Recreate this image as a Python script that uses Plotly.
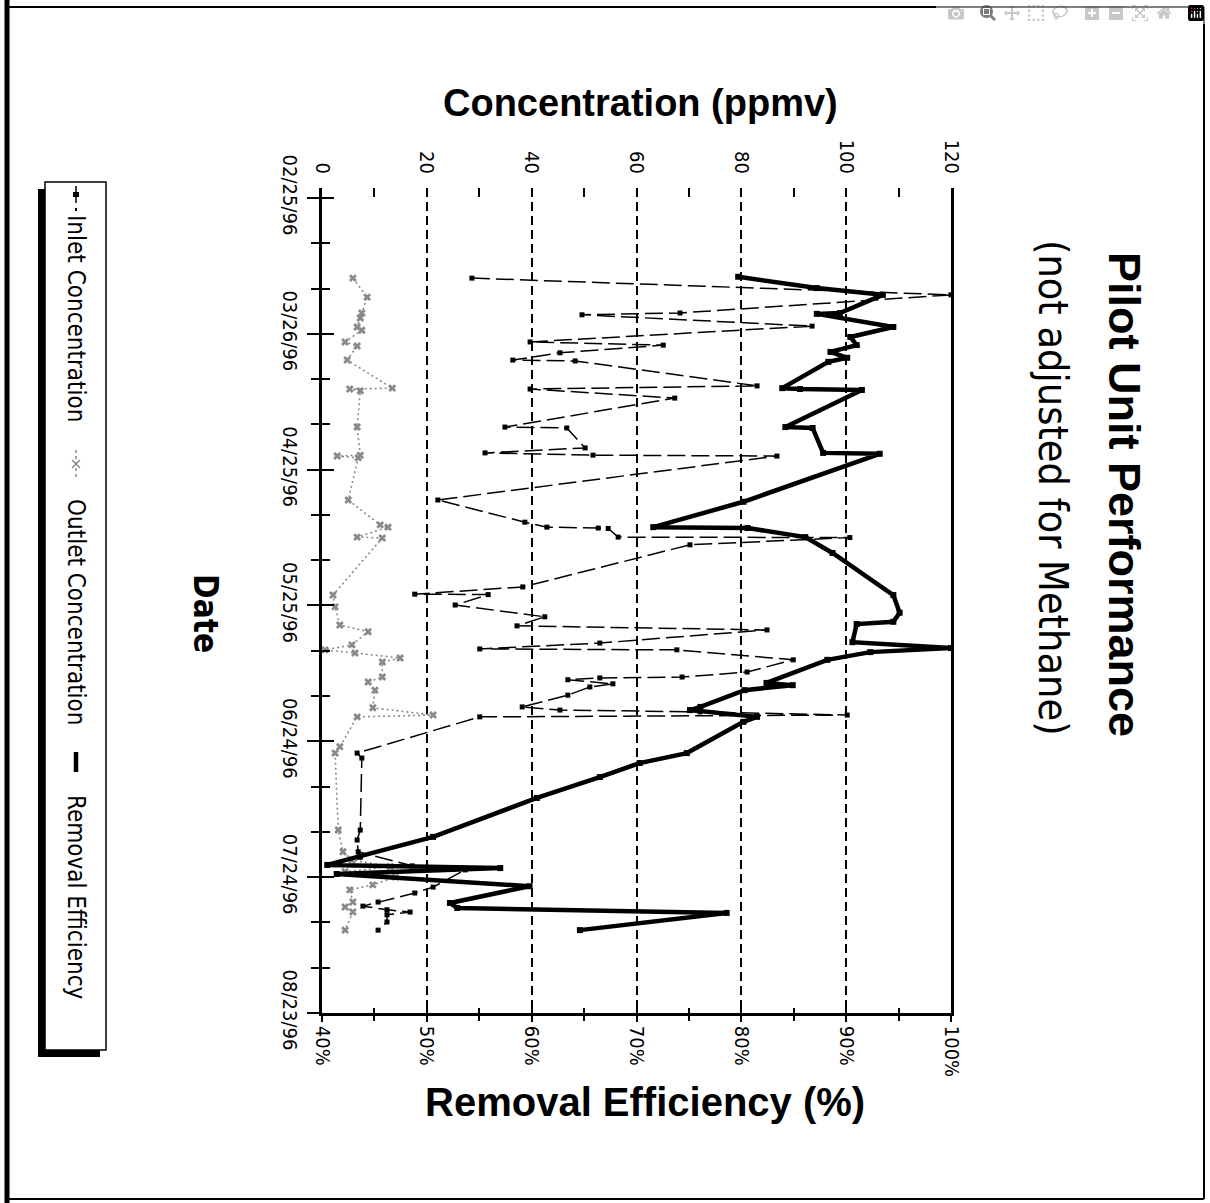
import plotly.graph_objects as go
import pandas as pd

W, H = 1210, 1203
BASE = pd.Timestamp("1996-02-25")

# ---------------- data ----------------
# days after 02/25/96
inlet_days = [17.7, 21.4, 25.4, 25.8, 28.3, 31.8, 32.5, 34.2, 35.8, 36.0, 41.5, 42.2, 44.2,
              50.6, 50.8, 55.2, 56.3, 56.8, 57.0, 66.7, 71.6, 72.7, 72.9, 73.0, 74.9, 75.0,
              76.6, 85.9, 87.5, 87.6, 89.9, 92.5, 94.5, 95.4, 98.3, 99.6, 99.8, 102.0, 104.7,
              105.8, 106.0, 106.4, 107.3, 108.0, 109.8, 112.4, 113.1, 113.5, 114.2, 114.6,
              122.6, 123.7, 139.6, 141.8, 144.4, 147.5, 148.4, 152.2, 153.5, 155.5, 156.4,
              157.2, 157.7, 158.3, 159.9, 161.7]
inlet_ppmv = [28.6, 120.0, 68.3, 49.6, 93.5, 39.7, 65.1, 45.4, 36.4, 48.3, 83.0, 39.7, 67.3,
              34.9, 46.7, 50.2, 31.1, 51.7, 86.8, 22.1, 38.7, 42.9, 52.7, 54.6, 56.5, 100.7,
              70.2, 38.3, 17.7, 31.7, 25.4, 42.5, 37.2, 84.9, 53.0, 30.1, 67.7, 89.9, 81.1,
              68.7, 53.0, 46.9, 55.5, 51.1, 46.9, 38.2, 45.4, 72.1, 100.2, 30.1,
              6.7, 7.6, 7.3, 6.7, 6.9, 17.2, 27.3, 21.2, 17.7, 10.7, 7.8,
              12.4, 16.8, 12.4, 12.4, 10.7]

outlet_days = [17.7, 21.9, 25.4, 26.5, 28.5, 29.2, 31.8, 32.7, 35.8, 42.0, 42.2, 42.6, 50.6,
               56.8, 57.0, 57.4, 66.7, 72.2, 72.7, 74.9, 75.1, 87.7, 90.3, 94.3, 95.8, 98.7,
               99.8, 100.5, 101.6, 102.5, 105.8, 106.9, 108.7, 112.6, 114.2, 114.6, 121.2,
               122.6, 139.6, 144.4, 146.2, 147.7, 148.8, 150.0, 151.7, 152.8, 155.5, 156.6,
               157.7, 161.7]
outlet_ppmv = [5.9, 8.6, 7.6, 7.3, 6.7, 7.6, 4.4, 6.7, 4.8, 13.4, 5.3, 7.3, 6.7,
               7.3, 2.9, 6.9, 5.0, 11.1, 12.6, 6.7, 11.5, 2.1, 2.5, 3.4, 8.8, 5.7,
               0.6, 6.3, 14.9, 11.5, 11.5, 8.8, 10.1, 9.7, 21.2, 6.7, 3.4,
               2.5, 3.1, 4.0, 5.7, 13.0, 4.4, 14.0, 9.7, 5.3, 5.9, 4.4,
               5.9, 4.4]

eff_days = [17.4, 19.9, 21.4, 25.4, 25.6, 28.5, 30.7, 32.5, 34.0, 35.3, 36.2, 42.0, 42.2,
            42.4, 50.6, 50.8, 56.3, 56.5, 67.1, 72.7, 72.9, 74.9, 78.4, 87.7, 91.6, 93.6,
            94.1, 98.1, 99.4, 100.3, 102.0, 107.1, 107.6, 108.7, 112.4, 113.1, 114.6, 115.7,
            122.6, 124.8, 127.9, 132.5, 141.1, 145.5, 147.3, 148.0, 149.3, 152.0, 155.7,
            156.8, 157.9, 161.7]
eff_pct = [79.7, 87.2, 93.5, 89.4, 87.2, 94.5, 90.4, 91.0, 88.5, 90.1, 88.3, 83.9, 85.6,
           91.5, 84.2, 86.8, 87.8, 93.2, 80.2, 71.6, 80.6, 86.1, 88.7, 94.5, 95.1, 94.5,
           91.0, 90.6, 100.0, 92.3, 88.2, 82.4, 84.9, 80.3, 76.1, 75.1, 81.5, 80.2,
           74.8, 70.3, 66.5, 60.5, 50.6, 43.6, 40.5, 57.0, 41.4, 59.8, 52.2,
           52.9, 78.6, 64.6]

date_tick_days = [0, 30, 60, 90, 120, 150, 180]
date_tick_labels = ["02/25/96", "03/26/96", "04/25/96", "05/25/96", "06/24/96", "07/24/96", "08/23/96"]
conc_ticks = [0, 20, 40, 60, 80, 100, 120]
conc_minor = [10, 30, 50, 70, 90, 110]
eff_ticks = [40, 50, 60, 70, 80, 90, 100]
eff_tick_labels = ["40%", "50%", "60%", "70%", "80%", "90%", "100%"]
eff_minor = [45, 55, 65, 75, 85, 95]


def to_dates(days):
    return [BASE + pd.Timedelta(days=d) for d in days]


def px(x):
    return x / W


def py(y):
    return 1 - y / H


NARROW = "DejaVu Sans Condensed, Liberation Sans Narrow, Arial Narrow, sans-serif"
ARIAL = "Liberation Sans, Arial, sans-serif"

date_top = BASE - pd.Timedelta(days=2.2)
date_bot = BASE + pd.Timedelta(days=180)
date_ticks = to_dates(date_tick_days)

fig = go.Figure()

fig.add_trace(go.Scatter(
    x=outlet_ppmv, y=to_dates(outlet_days), xaxis="x", yaxis="y",
    mode="lines+markers", name="Outlet Concentration",
    line=dict(color="#8a8a8a", width=1.6, dash="2px,3px"),
    marker=dict(symbol="x", size=7, color="#8a8a8a")))

fig.add_trace(go.Scatter(
    x=inlet_ppmv, y=to_dates(inlet_days), xaxis="x", yaxis="y",
    mode="lines+markers", name="Inlet Concentration",
    line=dict(color="black", width=1.5, dash="18px,6px"),
    marker=dict(symbol="square", size=5, color="black")))

fig.add_trace(go.Scatter(
    x=eff_pct, y=to_dates(eff_days), xaxis="x2", yaxis="y",
    mode="lines+markers", name="Removal Efficiency",
    line=dict(color="black", width=4.5),
    marker=dict(symbol="square", size=6, color="black")))

# helper traces so the extra tick-only axes are drawn
fig.add_trace(go.Scatter(x=[None], y=[None], xaxis="x3", yaxis="y", showlegend=False, hoverinfo="skip"))
fig.add_trace(go.Scatter(x=[None], y=[None], xaxis="x", yaxis="y2", showlegend=False, hoverinfo="skip"))

dom_x = [px(322), px(951)]
dom_y = [py(1013), py(188)]

fig.update_layout(
    width=W, height=H, autosize=False,
    margin=dict(l=0, r=0, t=0, b=0, pad=0, autoexpand=False),
    paper_bgcolor="white", plot_bgcolor="white",
    showlegend=False,
    xaxis=dict(
        domain=dom_x, range=[0, 120], side="top", anchor="y", automargin=False,
        tickmode="array", tickvals=conc_ticks, tickangle=90,
        tickfont=dict(family=NARROW, size=20, color="black"),
        ticks="", ticklabelstandoff=10,
        showgrid=True, gridcolor="black", gridwidth=2, griddash="9px,5px",
        zeroline=False, showline=False,
        minor=dict(tickmode="array", tickvals=conc_minor, ticks="inside", ticklen=9,
                   tickwidth=2, tickcolor="black", showgrid=False)),
    xaxis2=dict(
        overlaying="x", range=[40, 100], side="bottom", anchor="y", automargin=False,
        tickmode="array", tickvals=eff_ticks, ticktext=eff_tick_labels, tickangle=90,
        tickfont=dict(family=NARROW, size=20, color="black"),
        ticks="outside", ticklen=6, tickwidth=2, tickcolor="black",
        showgrid=False, zeroline=False, showline=True, linecolor="black", linewidth=2.5,
        minor=dict(tickmode="array", tickvals=eff_minor, ticks="outside", ticklen=5,
                   tickwidth=2, tickcolor="black", showgrid=False)),
    xaxis3=dict(
        overlaying="x", range=[40, 100], side="bottom", anchor="y", automargin=False,
        tickmode="array", tickvals=eff_ticks, showticklabels=False,
        ticks="inside", ticklen=6, tickwidth=2, tickcolor="black",
        showgrid=False, zeroline=False, showline=False,
        minor=dict(tickmode="array", tickvals=eff_minor, ticks="inside", ticklen=5,
                   tickwidth=2, tickcolor="black", showgrid=False)),
    yaxis=dict(
        domain=dom_y, type="date", range=[date_bot, date_top], anchor="x", automargin=False,
        tickmode="array", tickvals=date_ticks, ticktext=date_tick_labels, tickangle=90,
        tickfont=dict(family=NARROW, size=20, color="black"),
        ticks="outside", ticklen=12, tickwidth=2, tickcolor="black",
        showgrid=False, zeroline=False,
        showline=True, linecolor="black", linewidth=2.5, mirror=True,
        minor=dict(tick0=BASE, dtick=10 * 86400000, ticks="outside", ticklen=8,
                   tickwidth=2, tickcolor="black", showgrid=False)),
    yaxis2=dict(
        overlaying="y", type="date", range=[date_bot, date_top], anchor="x", automargin=False,
        tickmode="array", tickvals=date_ticks, showticklabels=False,
        ticks="inside", ticklen=12, tickwidth=2, tickcolor="black",
        showgrid=False, zeroline=False, showline=False,
        minor=dict(tick0=BASE, dtick=10 * 86400000, ticks="inside", ticklen=8,
                   tickwidth=2, tickcolor="black", showgrid=False)),
)

ann = []


def add_text(text, x, y, size, family=ARIAL, angle=0):
    ann.append(dict(text=text, x=px(x), y=py(y), xref="paper", yref="paper",
                    xanchor="center", yanchor="middle", showarrow=False, textangle=angle,
                    font=dict(family=family, size=size, color="black")))


add_text("<b>Pilot Unit Performance</b>", 1125, 494, 45, ARIAL, 90)
add_text("(not adjusted for Methane)", 1053, 488, 41, NARROW, 90)
add_text("<b>Date</b>", 206, 613, 33, NARROW, 90)
add_text("<b>Concentration (ppmv)</b>", 640, 103, 38, ARIAL)
add_text("<b>Removal Efficiency (%)</b>", 645, 1102, 40, ARIAL)
add_text("Inlet Concentration", 76, 318, 24, NARROW, 90)
add_text("Outlet Concentration", 76, 612, 24, NARROW, 90)
add_text("Removal Efficiency", 76, 897, 24, NARROW, 90)
fig.update_layout(annotations=ann)

shapes = []


def rect(x0, y0, x1, y1, fill=None, lw=1.5, lc="black"):
    shapes.append(dict(type="rect", xref="paper", yref="paper",
                       x0=px(x0), x1=px(x1), y0=py(y1), y1=py(y0),
                       fillcolor=fill if fill else "rgba(0,0,0,0)",
                       line=dict(color=lc, width=lw)))


def seg(x0, y0, x1, y1, lw=1.5, lc="black", dash="solid"):
    shapes.append(dict(type="line", xref="paper", yref="paper",
                       x0=px(x0), x1=px(x1), y0=py(y0), y1=py(y1),
                       line=dict(color=lc, width=lw, dash=dash)))


# outer frame
seg(7, 0, 7, H, lw=5)
seg(7, 7, 1204, 7, lw=2)
seg(1204, 7, 1204, 1199, lw=2)
seg(7, 1199, 1204, 1199, lw=2)

# legend box with shadow
rect(38, 189, 100, 1057, fill="black", lw=0)
rect(45, 182, 106, 1050, fill="white", lw=1.5)
# legend samples
seg(76, 186, 76, 203, lw=1.5)
rect(73, 192, 79, 197, fill="black", lw=0)
rect(75, 208, 77, 211, fill="black", lw=0)
seg(76, 450, 76, 478, lw=1.5, lc="#8a8a8a", dash="dot")
seg(72, 460, 80, 468, lw=1.5, lc="#8a8a8a")
seg(80, 460, 72, 468, lw=1.5, lc="#8a8a8a")
seg(76, 752, 76, 772, lw=4.5)

fig.update_layout(shapes=shapes)

fig.write_html("out.html", post_script="document.body.style.margin='0';document.body.style.overflow='hidden';")
